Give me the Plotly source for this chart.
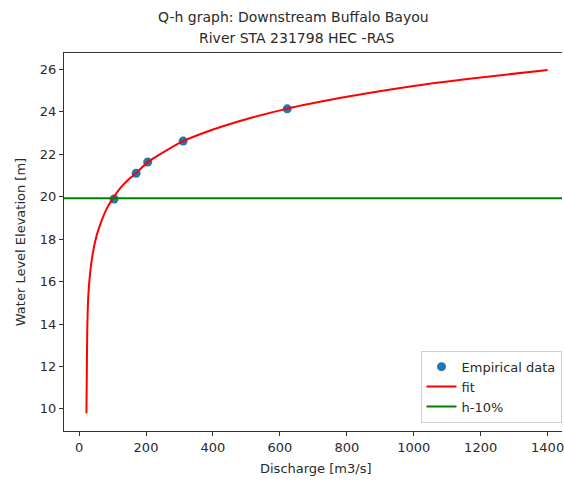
import plotly.graph_objects as go

# Measured discharge / stage pairs
empirical_q = [104.6, 170.4, 205.0, 311.0, 622.0]
empirical_h = [19.89, 21.10, 21.63, 22.62, 24.14]

# Fitted rating curve, sampled along its length
fit_q = [22, 23, 24.5, 27.5, 33, 41, 53, 68, 83, 101, 123, 147, 170, 205,
         250, 311, 392, 442, 520, 622, 690, 800, 1000, 1200, 1400]
fit_h = [9.8, 11.4, 13.7, 15.3, 16.4, 17.33, 18.2, 18.9, 19.45, 19.92, 20.4,
         20.8, 21.1, 21.63, 22.08, 22.62, 23.12, 23.38, 23.74, 24.15, 24.38,
         24.71, 25.22, 25.62, 25.97]

# Threshold level (h-10%)
h_threshold = 19.93

x_range = [-45, 1443]
y_range = [8.96, 26.77]
x_ticks = [0, 200, 400, 600, 800, 1000, 1200, 1400]
y_ticks = [10, 12, 14, 16, 18, 20, 22, 24, 26]

title_lines = ["Q-h graph: Downstream Buffalo Bayou", "River STA 231798 HEC -RAS"]
x_label = "Discharge [m3/s]"
y_label = "Water Level Elevation [m]"

FONT = "DejaVu Sans"
INK = "#2a2a2a"

fig = go.Figure()

fig.add_trace(go.Scatter(
    x=empirical_q, y=empirical_h, mode="markers", name="Empirical data",
    marker=dict(color="#1f77b4", size=9, line=dict(width=0)),
))
fig.add_trace(go.Scatter(
    x=fit_q, y=fit_h, mode="lines", name="fit",
    line=dict(color="#ff0000", width=2, shape="spline", smoothing=0.6),
))
fig.add_trace(go.Scatter(
    x=x_range, y=[h_threshold, h_threshold], mode="lines", name="h-10%",
    line=dict(color="#008000", width=2),
))

fig.update_layout(
    width=564, height=480,
    margin=dict(l=64, r=0, t=53, b=49),
    paper_bgcolor="white", plot_bgcolor="white",
    font=dict(family=FONT, size=13, color=INK),
    showlegend=True,
    legend=dict(
        x=0.999, y=0.022, xanchor="right", yanchor="bottom",
        bgcolor="rgba(255,255,255,0.9)", bordercolor="#d0d0d0", borderwidth=1,
        font=dict(family=FONT, size=13, color=INK),
        tracegroupgap=0, itemwidth=30,
    ),
    xaxis=dict(
        range=x_range, tickvals=x_ticks, showgrid=False, zeroline=False,
        showline=True, linecolor="#333", linewidth=1, mirror=True,
        ticks="outside", ticklen=4, tickcolor="#333", tickwidth=1,
        ticklabeloverflow="allow",
        tickfont=dict(family=FONT, size=13, color=INK),
    ),
    yaxis=dict(
        range=y_range, tickvals=y_ticks, showgrid=False, zeroline=False,
        showline=True, linecolor="#333", linewidth=1, mirror=False,
        ticks="outside", ticklen=4, tickcolor="#333", tickwidth=1,
        tickfont=dict(family=FONT, size=13, color=INK),
    ),
    annotations=[
        dict(text=title_lines[0], xref="paper", yref="paper", x=(294 - 64) / 500,
             y=1 + (53 - 17) / 378, xanchor="center", yanchor="middle",
             showarrow=False, font=dict(family=FONT, size=14, color=INK)),
        dict(text=title_lines[1], xref="paper", yref="paper", x=(297 - 64) / 500,
             y=1 + (53 - 38) / 378, xanchor="center", yanchor="middle",
             showarrow=False, font=dict(family=FONT, size=14, color=INK)),
        dict(text=x_label, xref="paper", yref="paper", x=(317 - 64) / 500,
             y=-(468 - 431) / 378, xanchor="center", yanchor="middle",
             showarrow=False, font=dict(family=FONT, size=13, color=INK)),
        dict(text=y_label, xref="paper", yref="paper", x=-(64 - 20) / 500,
             y=0.5, xanchor="center", yanchor="middle", textangle=-90,
             showarrow=False, font=dict(family=FONT, size=13, color=INK)),
    ],
)

fig.write_html("out.html")
